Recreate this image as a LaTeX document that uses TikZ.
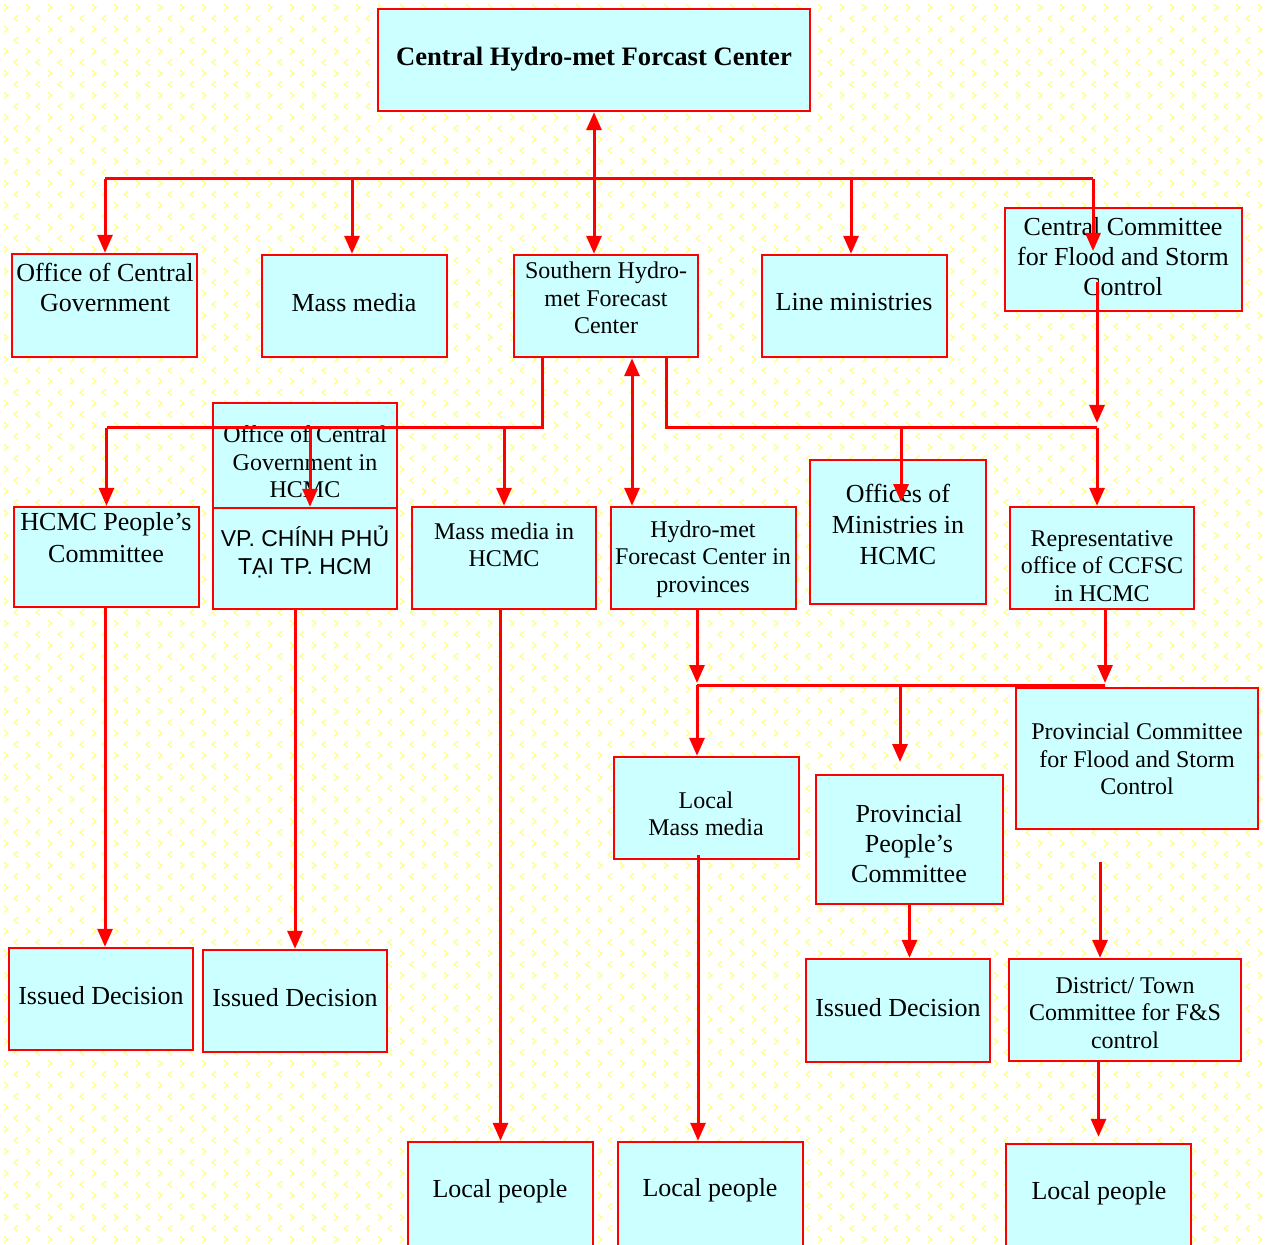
\documentclass[tikz,border=0pt]{standalone}
\usepackage{fontspec}
\setmainfont{Liberation Serif}
\newfontfamily\sansf{Liberation Sans}
\usetikzlibrary{arrows.meta,fit,patterns}
\definecolor{boxcyan}{HTML}{CCFFFF}
\definecolor{chevyel}{HTML}{FFFF8C}
\pgfdeclarepatternformonly{chev}{\pgfqpoint{-1pt}{-1pt}}{\pgfqpoint{12pt}{12pt}}{\pgfqpoint{11pt}{11pt}}{%
  \pgfsetlinewidth{0.7pt}%
  \pgfpathmoveto{\pgfqpoint{2pt}{1.3pt}}\pgfpathlineto{\pgfqpoint{4pt}{2.8pt}}\pgfpathlineto{\pgfqpoint{2pt}{4.3pt}}%
  \pgfpathmoveto{\pgfqpoint{9pt}{6.8pt}}\pgfpathlineto{\pgfqpoint{7pt}{8.3pt}}\pgfpathlineto{\pgfqpoint{9pt}{9.8pt}}%
  \pgfusepath{stroke}}
\tikzset{
  box/.style={draw=red, line width=1.2pt, fill=boxcyan, inner sep=0pt},
  txt/.style={align=center, inner sep=0pt, text=black},
  fA/.style={font=\fontsize{13}{15}\selectfont},
  fB/.style={font=\fontsize{12}{13.75}\selectfont},
  ln/.style={draw=red, line width=1.5pt},
  arr/.style={ln, -{Triangle[length=9pt,width=7.5pt]}},
  darr/.style={ln, {Triangle[length=9pt,width=7.5pt]}-{Triangle[length=9pt,width=7.5pt]}},
}
\begin{document}
\begin{tikzpicture}[x=0.5pt,y=-0.5pt]
\useasboundingbox (0,0) rectangle (1267,1245);
\fill[white] (0,0) rectangle (1267,1245);
\fill[pattern=chev, pattern color=chevyel] (0,0) rectangle (1267,1245);

% boxes
\node[box, fit={(378,9) (810,111)}] (cen) {};
\node[box, fit={(12,254) (197,357)}] (ocg) {};
\node[box, fit={(262,255) (447,357)}] (mm) {};
\node[box, fit={(514,255) (698,357)}] (shc) {};
\node[box, fit={(762,255) (947,357)}] (lm) {};
\node[box, fit={(1005,208) (1242,311)}] (ccf) {};
\node[box, fit={(213,403) (397,508)}] (ocgh) {};
\node[box, fit={(213,508) (397,609)}] (vp) {};
\node[box, fit={(14,507) (199,607)}] (hpc) {};
\node[box, fit={(412,507) (596,609)}] (mmh) {};
\node[box, fit={(611,507) (796,609)}] (hfp) {};
\node[box, fit={(810,460) (986,604)}] (omh) {};
\node[box, fit={(1010,507) (1194,609)}] (rep) {};
\node[box, fit={(614,757) (799,859)}] (lmm) {};
\node[box, fit={(816,775) (1003,904)}] (ppc) {};
\node[box, fit={(1016,688) (1258,829)}] (pcf) {};
\node[box, fit={(9,948) (193,1050)}] (id1) {};
\node[box, fit={(203,950) (387,1052)}] (id2) {};
\node[box, fit={(806,959) (990,1062)}] (id3) {};
\node[box, fit={(1009,959) (1241,1061)}] (dtc) {};
\node[box, fit={(408,1142) (593,1250)}] (lp1) {};
\node[box, fit={(618,1142) (803,1250)}] (lp2) {};
\node[box, fit={(1006,1144) (1191,1250)}] (lp3) {};

% texts
\node[txt, font=\fontsize{13.3}{15}\selectfont] (tcen) at (594,59) {\textbf{Central Hydro-met Forcast Center}};
\node[txt, fA] (tocg) at (105,287) {Office of Central\\Government};
\node[txt, fA] (tmm) at (354,303) {Mass media};
\node[txt, fB] (tshc) at (606,298) {Southern Hydro-\\met Forecast\\Center};
\node[txt, fA] (tlm) at (854,302) {Line ministries};
\node[txt, fA] (tccf) at (1123,257) {Central Committee\\for Flood and Storm\\Control};
\node[txt, fB] (tocgh) at (305,462) {Office of Central\\Government in\\HCMC};
\node[txt, font=\sansf\fontsize{11.5}{14}\selectfont] (tvp) at (305,552) {VP. CHÍNH PHỦ\\TẠI TP. HCM};
\node[txt, font=\fontsize{13}{16}\selectfont] (thpc) at (106,538) {HCMC People’s\\Committee};
\node[txt, fB] (tmmh) at (504,545) {Mass media in\\HCMC};
\node[txt, fB] (thfp) at (703,559) {Hydro-met\\Forecast Center in\\provinces};
\node[txt, font=\fontsize{13}{15.5}\selectfont] (tomh) at (898,524) {Offices of\\Ministries in\\HCMC};
\node[txt, fB] (trep) at (1102,566) {Representative\\office of CCFSC\\in HCMC};
\node[txt, fB] (tlmm) at (706,814) {Local\\Mass media};
\node[txt, fA] (tppc) at (909,844) {Provincial\\People’s\\Committee};
\node[txt, fB] (tpcf) at (1137,759) {Provincial Committee\\for Flood and Storm\\Control};
\node[txt, fA] (tid1) at (101,996) {Issued Decision};
\node[txt, fA] (tid2) at (295,998) {Issued Decision};
\node[txt, fA] (tid3) at (898,1008) {Issued Decision};
\node[txt, fB] (tdtc) at (1125,1013) {District/ Town\\Committee for F\&S\\control};
\node[txt, fA] (tlp1) at (500,1191) {Local people};
\node[txt, fA] (tlp2) at (710,1190) {Local people};
\node[txt, fA] (tlp3) at (1099,1193) {Local people};

% junction coordinates
\coordinate (busL) at (105,179);
\coordinate (busR) at (1093,179);
\coordinate (ccfin) at (1093,251);
\coordinate (jA) at (542,428);
\coordinate (jV) at (310,428);
\coordinate (xD) at (632,428);
\coordinate (jB) at (666,428);
\coordinate (jC) at (1097,428);
\coordinate (omhin) at (901,502);
\coordinate (ccfout) at (1097,282);
\coordinate (jE) at (697,685);
\coordinate (jF) at (1105,685);
\coordinate (ppcin) at (900,762);
\coordinate (xL) at (698,855);
\coordinate (dtcin) at (1100,862);
\coordinate (xM) at (352,179);
\coordinate (xN) at (851,179);

% connectors
\draw[ln] (busL) -- (busR);
\draw[arr] (busL) -- (busL |- ocg.north);
\draw[arr] (xM) -- (xM |- mm.north);
\draw[arr] (xN) -- (xN |- lm.north);
\draw[arr] (busR) -- (ccfin);
\draw[darr] (cen.south) -- (cen.south |- shc.north);

\draw[ln] (shc.south -| jA) -- (jA) -- (hpc.north |- jA);
\draw[arr] (hpc.north |- jA) -- (hpc.north);
\draw[arr] (jV) -- (jV |- vp.north);
\draw[arr] (mmh.north |- jA) -- (mmh.north);
\draw[darr] (shc.south -| xD) -- (hfp.north -| xD);
\draw[ln] (shc.south -| jB) -- (jB) -- (jC);
\draw[arr] (omhin |- jB) -- (omhin);
\draw[arr] (jC) -- (jC |- rep.north);
\draw[arr, shorten >=2.5pt] (ccfout) -- (jC);

\draw[arr, shorten >=1pt] (hfp.south -| jE) -- (jE);
\draw[ln] (jE) -- (jF);
\draw[arr, shorten >=1pt] (rep.south -| jF) -- (jF);
\draw[arr] (jE) -- (jE |- lmm.north);
\draw[arr] (ppcin |- jE) -- (ppcin);

\draw[arr] (hpc.south -| busL) -- (busL |- id1.north);
\draw[arr] (vp.south -| id2.north) -- (id2.north);
\draw[arr] (mmh.south -| lp1.north) -- (lp1.north);
\draw[arr] (xL) -- (xL |- lp2.north);
\draw[arr] (ppc.south) -- (ppc.south |- id3.north);
\draw[arr] (dtcin) -- (dtcin |- dtc.north);
\draw[arr, shorten >=3pt] (dtc.south -| lp3.north) -- (lp3.north);
\end{tikzpicture}
\end{document}
